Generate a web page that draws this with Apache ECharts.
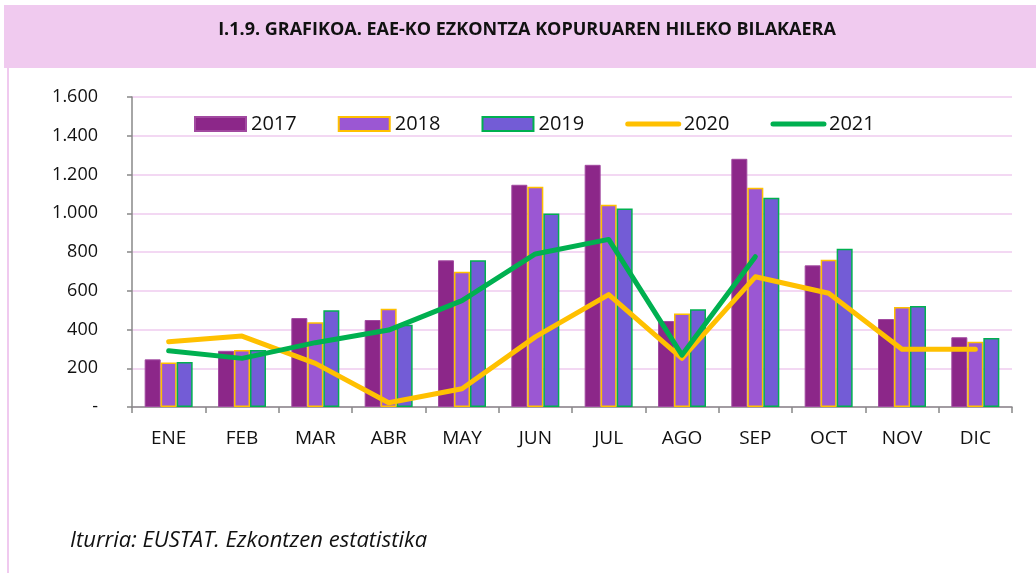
<!DOCTYPE html>
<html>
<head>
<meta charset="utf-8">
<script src="https://cdn.jsdelivr.net/npm/echarts@6/dist/echarts.min.js"></script>
<style>
html,body{margin:0;padding:0;background:#fff;}
#c{width:1036px;height:573px;}
</style>
</head>
<body>
<div id="c"></div>
<script>
const categories = ['ENE','FEB','MAR','ABR','MAY','JUN','JUL','AGO','SEP','OCT','NOV','DIC'];
const y2017 = [246, 290, 459, 449, 757, 1147, 1250, 444, 1281, 731, 454, 360];
const y2018 = [230, 294, 437, 507, 698, 1137, 1044, 483, 1132, 760, 516, 337];
const y2019 = [232, 294, 500, 425, 757, 999, 1025, 504, 1080, 817, 521, 356];
const y2020 = [337, 366, 225, 22, 94, 362, 580, 251, 672, 587, 298, 298];
const y2021 = [290, 251, 332, 397, 549, 790, 865, 268, 776, null, null, null];
const yTicks = [0, 200, 400, 600, 800, 1000, 1200, 1400, 1600];
const titleText = 'I.1.9. GRAFIKOA. EAE-KO EZKONTZA KOPURUAREN HILEKO BILAKAERA';
const sourceText = 'Iturria: EUSTAT. Ezkontzen estatistika';

const FONT = '"Open Sans", "Noto Sans", sans-serif';
const chart = echarts.init(document.getElementById('c'), null, {renderer:'canvas'});

function fmt(v){
  if (v === 0) return '-';
  return String(v).replace(/\B(?=(\d{3})+(?!\d))/g, '.');
}

const lineLegend = {lineStyle:{width:5, cap:'round'}, itemStyle:{opacity:0}};

chart.setOption({
  animation: false,
  backgroundColor: '#ffffff',
  textStyle: {fontFamily: FONT},
  graphic: [
    {type:'rect', left:4, top:5, shape:{width:1032, height:63}, style:{fill:'#F0CAEF'}, z:-1},
    {type:'rect', left:7, top:68, shape:{width:2, height:505}, style:{fill:'#F0CAEF'}, z:-1},
    {type:'text', x:527, y:30, style:{text:titleText, fill:'#111', align:'center', verticalAlign:'middle', font:'bold 18px "Open Sans", sans-serif'}},
    {type:'text', x:70, y:541, style:{text:sourceText, fill:'#111', verticalAlign:'middle', font:'italic 22px "Open Sans", sans-serif'}}
  ],
  legend: {
    left: 189, top: 109,
    itemWidth: 51, itemHeight: 14, itemGap: 41,
    textStyle: {fontSize: 20, color: '#111', fontFamily: FONT},
    data: [
      {name:'2017', icon:'rect'},
      {name:'2018', icon:'rect'},
      {name:'2019', icon:'rect'},
      Object.assign({name:'2020'}, lineLegend),
      Object.assign({name:'2021'}, lineLegend)
    ]
  },
  grid: {left: 132, right: 24, top: 97, bottom: 166, containLabel: false},
  xAxis: {
    type: 'category', data: categories,
    axisLine: {lineStyle: {color: '#888', width: 1.5}},
    axisTick: {show: true, alignWithLabel: false, length: 6, lineStyle: {color: '#888', width: 1.5}},
    axisLabel: {color: '#111', fontSize: 19, margin: 22, fontFamily: FONT}
  },
  yAxis: {
    type: 'value', min: yTicks[0], max: yTicks[yTicks.length-1], interval: 200,
    axisLine: {show: true, lineStyle: {color: '#888', width: 1.5}},
    axisTick: {show: true, length: 5, lineStyle: {color: '#888', width: 1.5}},
    axisLabel: {color: '#111', fontSize: 18, margin: 34, formatter: fmt, fontFamily: FONT},
    splitLine: {show: true, lineStyle: {color: '#EFCBEF', width: 1.5}}
  },
  series: [
    {name:'2017', type:'bar', data:y2017, barWidth:16, barGap:'0%',
     itemStyle:{color:'#8C2789', borderColor:'#A24AA0', borderWidth:1}},
    {name:'2018', type:'bar', data:y2018, barWidth:16, barGap:'0%',
     itemStyle:{color:'#9B57D3', borderColor:'#FFC000', borderWidth:1.5}},
    {name:'2019', type:'bar', data:y2019, barWidth:16, barGap:'0%',
     itemStyle:{color:'#735CD6', borderColor:'#00B050', borderWidth:1.5}},
    {name:'2020', type:'line', data:y2020, symbol:'none', z:5,
     lineStyle:{color:'#FFC000', width:5, cap:'round', join:'round'}, itemStyle:{color:'#FFC000'}},
    {name:'2021', type:'line', data:y2021, symbol:'none', z:6, connectNulls:false,
     lineStyle:{color:'#00B050', width:5, cap:'round', join:'round'}, itemStyle:{color:'#00B050'}}
  ]
});
</script>
</body>
</html>
